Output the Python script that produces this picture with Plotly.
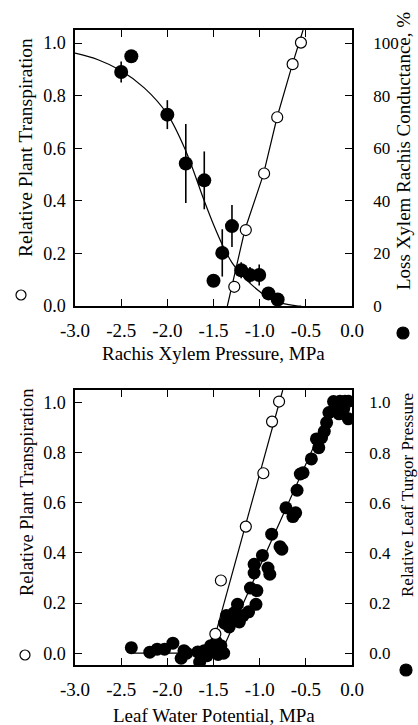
import plotly.graph_objects as go

# ---------------- data ----------------
# Top panel: relative plant transpiration (open, left axis)
top_open_x = [-1.275, -1.150, -0.952, -0.810, -0.643, -0.553]
top_open_y = [0.073, 0.289, 0.504, 0.718, 0.920, 1.002]
top_open_xerr = [0, 0, 0, 0, 0.03, 0]
top_open_line_x = [-1.35, -1.16, -0.96, -0.81, -0.645, -0.53]
top_open_line_y = [0.0, 0.29, 0.50, 0.72, 0.92, 1.05]

# Top panel: loss of xylem rachis conductance, % (filled, right axis)
top_fill_x = [-2.50, -2.39, -2.00, -1.80, -1.60, -1.50, -1.405, -1.30, -1.200, -1.105, -1.005, -0.905, -0.805]
top_fill_y = [89.0, 95.0, 72.8, 54.2, 47.8, 9.6, 20.2, 30.4, 13.6, 11.8, 11.8, 4.8, 2.5]
top_fill_err = [4.0, 0, 5.5, 15.0, 11.0, 0, 9.0, 8.0, 3.0, 3.0, 4.0, 0, 0]
top_curve_x = [-3.0, -2.75, -2.5, -2.25, -2.0, -1.8, -1.6, -1.5, -1.4, -1.3, -1.2, -1.1, -1.0, -0.9, -0.8, -0.7, -0.6, -0.55]
top_curve_y = [96.2, 93.7, 89.5, 83.0, 73.0, 59.0, 40.0, 31.0, 23.0, 16.5, 12.0, 8.5, 5.5, 3.0, 1.5, 0.6, 0.1, 0.0]

# Bottom panel: relative plant transpiration (open, left axis)
bot_open_x = [-1.480, -1.420, -1.150, -0.960, -0.866, -0.790]
bot_open_y = [0.077, 0.290, 0.505, 0.718, 0.924, 1.004]
bot_open_xerr = [0, 0, 0, 0, 0.03, 0]
bot_open_line_x = [-1.49, -0.75]
bot_open_line_y = [0.06, 1.05]

# Bottom panel: relative leaf turgor pressure (filled, right axis)
bot_fill_x = [-2.39, -2.19, -2.11, -2.03, -1.94, -1.85, -1.82, -1.79, -1.67, -1.65,
              -1.60, -1.57, -1.53, -1.48, -1.47, -1.45, -1.42, -1.39,
              -1.38, -1.36, -1.33, -1.30, -1.28, -1.24, -1.22, -1.18, -1.12, -1.10,
              -1.04, -1.03, -1.06, -1.06, -0.97, -0.91, -0.89, -0.87, -0.78, -0.76,
              -0.715, -0.64, -0.61, -0.595, -0.56, -0.53, -0.44, -0.36, -0.385, -0.33,
              -0.30, -0.275, -0.25, -0.20, -0.16, -0.14, -0.13, -0.09, -0.075, -0.04, -0.04]
bot_fill_y = [0.022, 0.004, 0.016, 0.016, 0.040, -0.020, 0.010, 0.000, 0.005, -0.035,
              0.010, -0.010, 0.030, 0.020, 0.045, -0.005, 0.030, 0.000,
              0.120, 0.150, 0.105, 0.130, 0.160, 0.195, 0.125, 0.150, 0.165, 0.260,
              0.195, 0.250, 0.320, 0.355, 0.390, 0.340, 0.315, 0.475, 0.425, 0.415,
              0.580, 0.545, 0.560, 0.650, 0.715, 0.720, 0.775, 0.820, 0.855, 0.860,
              0.885, 0.920, 0.960, 1.004, 0.975, 0.955, 1.005, 0.975, 1.005, 1.005, 0.935]
bot_fill_line_x = [-2.40, -1.42, -0.20, 0.0]
bot_fill_line_y = [0.0, 0.0, 1.0, 1.0]

# Tick labels
x_tickvals = [-3.0, -2.5, -2.0, -1.5, -1.0, -0.5, 0.0]
x_ticktext = ["-3.0", "-2.5", "-2.0", "-1.5", "-1.0", "-0.5", "0.0"]
frac_tickvals = [0.0, 0.2, 0.4, 0.6, 0.8, 1.0]
frac_ticktext = ["0.0", "0.2", "0.4", "0.6", "0.8", "1.0"]
pct_tickvals = [0, 20, 40, 60, 80, 100]
pct_ticktext = ["0", "20", "40", "60", "80", "100"]

# ---------------- figure ----------------
W, H = 418, 725
FONT = "Liberation Serif, 'Times New Roman', Times, serif"
X0, X1 = 75, 352
TOP_Y0, TOP_Y1 = 30, 306
BOT_Y0, BOT_Y1 = 390, 665


def px(x):
    return x / W


def py(y):
    return 1 - y / H


fig = go.Figure()
line_style = dict(color="black", width=1.2)
fill_marker_top = dict(size=14, color="black")
fill_marker_bot = dict(size=13, color="black")
open_marker = dict(size=11, color="white", line=dict(color="black", width=1.2))

# top panel -- filled (right, base axis y2)
fig.add_trace(go.Scatter(x=top_curve_x, y=top_curve_y, mode="lines",
                         line=dict(color="black", width=1.2, shape="spline"),
                         xaxis="x", yaxis="y2"))
fig.add_trace(go.Scatter(x=top_fill_x, y=top_fill_y, mode="markers", marker=fill_marker_top,
                         error_y=dict(type="data", array=top_fill_err, color="black",
                                      thickness=1.6, width=0),
                         xaxis="x", yaxis="y2"))
# top panel -- open (left, overlay axis y)
fig.add_trace(go.Scatter(x=top_open_line_x, y=top_open_line_y, mode="lines", line=line_style,
                         xaxis="x", yaxis="y"))
fig.add_trace(go.Scatter(x=top_open_x, y=top_open_y, mode="markers", marker=open_marker,
                         error_x=dict(type="data", array=top_open_xerr, color="black",
                                      thickness=1.2, width=0),
                         xaxis="x", yaxis="y"))

# bottom panel -- filled (right, base axis y4)
fig.add_trace(go.Scatter(x=bot_fill_line_x, y=bot_fill_line_y, mode="lines", line=line_style,
                         xaxis="x2", yaxis="y4"))
fig.add_trace(go.Scatter(x=bot_fill_x, y=bot_fill_y, mode="markers", marker=fill_marker_bot,
                         xaxis="x2", yaxis="y4"))
# bottom panel -- open (left, overlay axis y3)
fig.add_trace(go.Scatter(x=bot_open_line_x, y=bot_open_line_y, mode="lines", line=line_style,
                         xaxis="x2", yaxis="y3"))
fig.add_trace(go.Scatter(x=bot_open_x, y=bot_open_y, mode="markers", marker=open_marker,
                         error_x=dict(type="data", array=bot_open_xerr, color="black",
                                      thickness=1.2, width=0),
                         xaxis="x2", yaxis="y3"))

tickfont = dict(family=FONT, size=18, color="black")
tickfont_r = dict(family=FONT, size=17, color="black")
common_x = dict(range=[-3.0, 0.0], tickvals=x_tickvals, ticktext=x_ticktext,
                ticks="inside", ticklen=7, tickwidth=1.2, tickcolor="black",
                showline=True, linecolor="black", linewidth=1.5, mirror="ticks",
                showgrid=False, zeroline=False, tickfont=dict(family=FONT, size=19, color="black"),
                domain=[px(X0), px(X1)], ticklabelstandoff=6, automargin=False)
common_y = dict(ticks="inside", ticklen=7, tickwidth=1.2, tickcolor="black",
                showline=True, linecolor="black", linewidth=1.5,
                showgrid=False, zeroline=False, automargin=False)

fig.update_layout(
    width=W, height=H,
    margin=dict(l=0, r=0, t=0, b=0, autoexpand=False),
    paper_bgcolor="white", plot_bgcolor="white",
    showlegend=False,
    font=dict(family=FONT, size=19, color="black"),
    xaxis=dict(**common_x, anchor="y2"),
    xaxis2=dict(**common_x, anchor="y4"),
    yaxis2=dict(**common_y, side="right", range=[0, 105], anchor="x",
                domain=[py(TOP_Y1), py(TOP_Y0)], tickfont=tickfont_r,
                tickvals=pct_tickvals, ticktext=pct_ticktext, ticklabelstandoff=16),
    yaxis=dict(**common_y, side="left", range=[0, 1.05], anchor="x", overlaying="y2",
               tickfont=tickfont,
               tickvals=frac_tickvals, ticktext=frac_ticktext, ticklabelstandoff=4),
    yaxis4=dict(**common_y, side="right", range=[-0.047, 1.05], anchor="x2",
                domain=[py(BOT_Y1), py(BOT_Y0)], tickfont=tickfont_r,
                tickvals=frac_tickvals, ticktext=frac_ticktext, ticklabelstandoff=12),
    yaxis3=dict(**common_y, side="left", range=[-0.047, 1.05], anchor="x2", overlaying="y4",
                tickfont=tickfont,
                tickvals=frac_tickvals, ticktext=frac_ticktext, ticklabelstandoff=4),
)

titles = [
    ("Relative Plant Transpiration", 25, 148, -90, 19.5),
    ("Loss Xylem Rachis Conductance, %", 403, 151, -90, 19),
    ("Rachis Xylem Pressure, MPa", 213.5, 353, 0, 19),
    ("Relative Plant Transpiration", 27, 492, -90, 18.5),
    ("Relative Leaf Turgor Pressure", 407, 495, -90, 17),
    ("Leaf Water Potential, MPa", 213.5, 715, 0, 19),
]
for text, x, y, ang, fs in titles:
    fig.add_annotation(text=text, x=px(x), y=py(y), xref="paper", yref="paper",
                       showarrow=False, textangle=ang, xanchor="center", yanchor="middle",
                       font=dict(family=FONT, size=fs, color="black"))

# legend symbols next to the axis titles
symbols = [(21, 295, 5, "white"), (403, 333, 6, "black"), (25, 655, 5, "white"), (406, 670, 6, "black")]
for x, y, r, fillc in symbols:
    fig.add_shape(type="circle", xref="paper", yref="paper",
                  xsizemode="pixel", ysizemode="pixel",
                  xanchor=px(x), yanchor=py(y), x0=-r, x1=r, y0=-r, y1=r,
                  fillcolor=fillc, line=dict(color="black", width=1.2))

fig.write_html("out.html",
               config={"displayModeBar": False},
               post_script="document.body.style.margin='0';document.body.style.overflow='hidden';")
